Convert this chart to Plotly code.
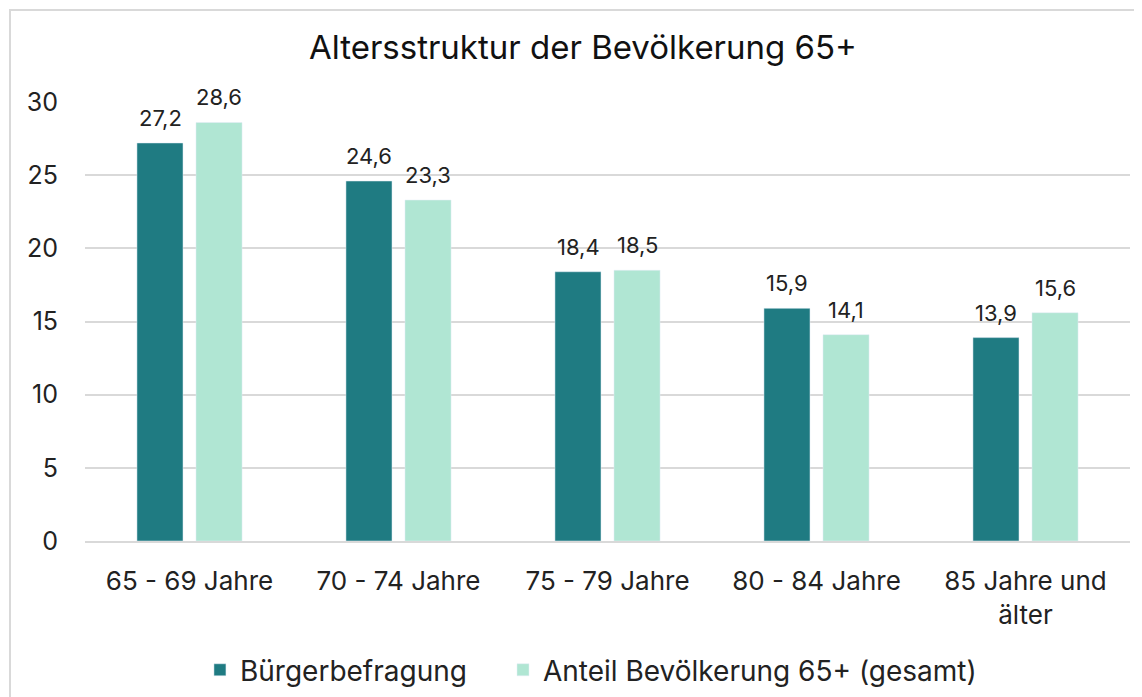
import plotly.graph_objects as go

categories = ['65 - 69 Jahre', '70 - 74 Jahre', '75 - 79 Jahre', '80 - 84 Jahre', '85 Jahre und<br>älter']
buerger = [27.2, 24.6, 18.4, 15.9, 13.9]
anteil = [28.6, 23.3, 18.5, 14.1, 15.6]

font = 'Inter, Open Sans, sans-serif'


def fmt(v):
    return f'{v:.1f}'.replace('.', ',')


fig = go.Figure()

# Bars
fig.add_trace(go.Bar(x=categories, y=buerger, name='Bürgerbefragung',
                     marker={'color': '#1f7b82'}, legend='legend'))
fig.add_trace(go.Bar(x=categories, y=anteil, name='Anteil Bevölkerung 65+ (gesamt)',
                     marker={'color': '#b0e6d3'}, legend='legend2'))

# Data labels above the bars
for series, shift in [(buerger, -29.5), (anteil, 29.5)]:
    for cat, val in zip(categories, series):
        fig.add_annotation(x=cat, y=val, text=fmt(val), showarrow=False,
                           xanchor='center', yanchor='bottom', xshift=shift, yshift=10,
                           font={'size': 22, 'color': '#222222', 'family': font})

legend_style = {'orientation': 'h', 'xanchor': 'left', 'y': -0.294, 'yanchor': 'middle',
                'font': {'size': 28}, 'itemwidth': 30, 'bgcolor': 'rgba(0,0,0,0)'}

fig.update_layout(
    width=1134, height=689,
    paper_bgcolor='white', plot_bgcolor='white',
    margin={'l': 77, 'r': 12, 't': 94, 'b': 156, 'autoexpand': False},
    font={'family': font, 'size': 25, 'color': '#222222'},
    title={'text': 'Altersstruktur der Bevölkerung 65+', 'x': 0.507, 'xanchor': 'center',
           'y': 0.943, 'yanchor': 'middle', 'font': {'size': 33, 'color': '#111111'}},
    barmode='group', bargap=0.435, bargroupgap=0.22,
    showlegend=True,
    legend={**legend_style, 'x': 0.110},
    legend2={**legend_style, 'x': 0.400},
)
fig.update_yaxes(range=[0, 30], dtick=5, showgrid=True, gridcolor='#d9d9d9', gridwidth=2,
                 zeroline=False, showline=False, ticks='', ticklabelstandoff=26,
                 tickfont={'size': 25})
fig.update_xaxes(showline=True, linecolor='#d9d9d9', linewidth=2, ticks='',
                 ticklabelstandoff=16, tickfont={'size': 26})

# Outer chart border
fig.add_shape(type='rect', xref='paper', yref='paper',
              x0=(2 - 77) / 1045, x1=(1160 - 77) / 1045,
              y0=-(156 + 10) / 439, y1=1 + (94 - 2) / 439,
              line={'color': '#d9d9d9', 'width': 2}, fillcolor='rgba(0,0,0,0)', layer='below')

fig.write_html("out.html")
